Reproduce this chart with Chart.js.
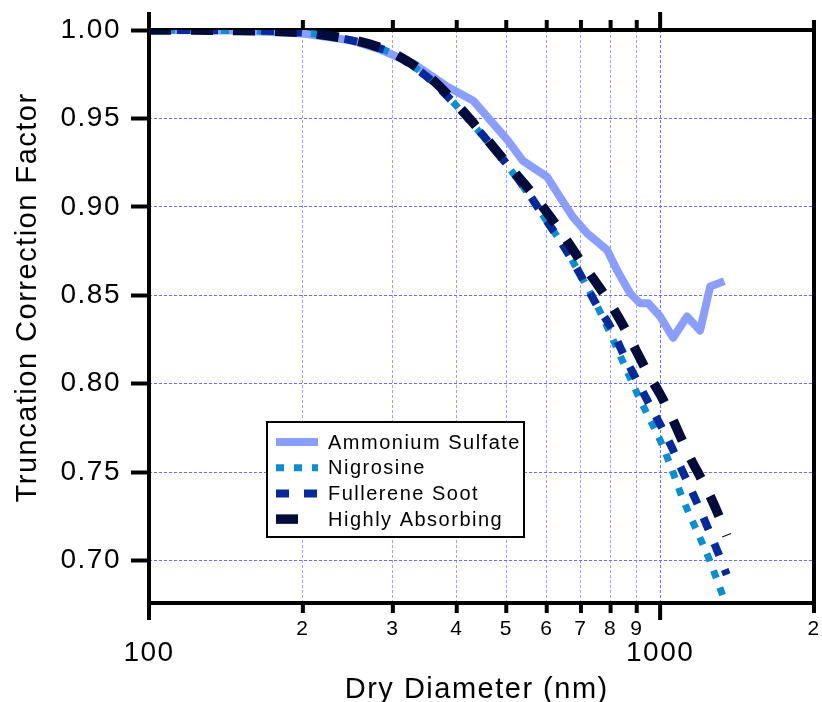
<!DOCTYPE html>
<html>
<head>
<meta charset="utf-8">
<title>Truncation Correction Factor vs Dry Diameter</title>
<script src="https://cdn.jsdelivr.net/npm/chart.js@4"></script>
<style>
  html, body { margin: 0; padding: 0; background: #ffffff; }
  #wrap { width: 822px; height: 702px; position: relative; }
</style>
</head>
<body>
<div id="wrap"><canvas id="chart"></canvas></div>
<script>
// Ammonium sulfate: dry diameter (nm) and truncation correction factor
const sulfateDiameter = [100, 150, 200, 250, 283, 329, 383, 431, 465, 502, 539, 601, 637, 676, 720, 788, 824, 874, 914, 948, 1000, 1060, 1129, 1197, 1253, 1335];
const sulfateFactor   = [1.000, 0.9997, 0.998, 0.994, 0.989, 0.981, 0.968, 0.960, 0.949, 0.938, 0.926, 0.917, 0.9055, 0.894, 0.885, 0.8755, 0.864, 0.851, 0.8455, 0.8455, 0.838, 0.826, 0.838, 0.830, 0.855, 0.858];

// Absorbing aerosols share one diameter grid (nm)
const absorberDiameter = [100, 150, 200, 236, 270, 300, 350, 400, 450, 500, 550, 600, 650, 700, 750, 800, 850, 900, 950, 1000, 1050, 1100, 1150, 1200, 1250, 1300, 1350];
const nigrosineFactor       = [1.000, 0.9997, 0.9985, 0.9955, 0.9915, 0.9865, 0.9735, 0.957, 0.940, 0.924, 0.908, 0.892, 0.877, 0.861, 0.845, 0.828, 0.811, 0.795, 0.781, 0.768, 0.753, 0.737, 0.724, 0.712, 0.700, 0.687, 0.674];
const fullereneFactor       = [1.000, 0.9997, 0.9985, 0.9955, 0.9915, 0.9865, 0.9735, 0.957, 0.9405, 0.9245, 0.9085, 0.892, 0.877, 0.861, 0.845, 0.832, 0.816, 0.802, 0.789, 0.777, 0.765, 0.752, 0.740, 0.728, 0.716, 0.704, 0.692];
const highlyAbsorbingFactor = [1.000, 0.9997, 0.9985, 0.9958, 0.992, 0.987, 0.9745, 0.958, 0.941, 0.925, 0.911, 0.897, 0.883, 0.869, 0.857, 0.845, 0.832, 0.818, 0.805, 0.794, 0.782, 0.769, 0.757, 0.747, 0.737, 0.726, 0.714];

// Axis ticks
const xTickValues = [100, 200, 300, 400, 500, 600, 700, 800, 900, 1000, 2000];
const yTickValues = [0.70, 0.75, 0.80, 0.85, 0.90, 0.95, 1.00];

const seriesNames = ['Ammonium Sulfate', 'Nigrosine', 'Fullerene Soot', 'Highly Absorbing'];

const FONT = "'Liberation Sans', Arial, Helvetica, sans-serif";
const GRID_MAJOR = '#6a6aff';
const GRID_MINOR = '#9c9cff';

const isDecade = v => Math.abs(Math.log10(v) - Math.round(Math.log10(v))) < 1e-9;
const toPoints = (xs, ys) => xs.map((x, i) => ({ x: x, y: ys[i] }));

const datasets = [
  {
    label: seriesNames[0],
    data: toPoints(sulfateDiameter, sulfateFactor),
    borderColor: '#8a9eff', borderWidth: 8,
    borderJoinStyle: 'round', borderCapStyle: 'butt',
    tension: 0, order: 4
  },
  {
    label: seriesNames[1],
    data: toPoints(absorberDiameter, nigrosineFactor),
    borderColor: '#0a8dd2', borderWidth: 7, borderDash: [8, 10],
    borderCapStyle: 'butt', cubicInterpolationMode: 'monotone', order: 3
  },
  {
    label: seriesNames[2],
    data: toPoints(absorberDiameter, fullereneFactor),
    borderColor: '#062a9c', borderWidth: 8, borderDash: [13, 15],
    borderCapStyle: 'butt', cubicInterpolationMode: 'monotone', order: 2
  },
  {
    label: seriesNames[3],
    data: toPoints(absorberDiameter, highlyAbsorbingFactor),
    borderColor: '#010c3a', borderWidth: 9.5, borderDash: [22, 20],
    borderCapStyle: 'butt', cubicInterpolationMode: 'monotone', order: 1
  }
];

// Slightly wider text tracking for every label on the canvas
const tracking = {
  id: 'tracking',
  beforeUpdate(chart) { chart.ctx.letterSpacing = '1.5px'; },
  beforeDraw(chart) { chart.ctx.letterSpacing = '1.5px'; }
};

// Heavy box frame with outward tick marks on the top and bottom log axes
const frame = {
  id: 'frame',
  beforeDatasetsDraw(chart) {
    const { ctx, chartArea: { left, right, top, bottom }, scales: { x } } = chart;
    ctx.save();
    ctx.strokeStyle = '#000';
    ctx.lineWidth = 4;
    ctx.lineJoin = 'miter';
    ctx.setLineDash([]);
    ctx.strokeRect(left, top, right - left, bottom - top);
    ctx.lineCap = 'butt';
    ctx.beginPath();
    xTickValues.forEach(v => {
      const px = x.getPixelForValue(v);
      const major = isDecade(v);
      ctx.moveTo(px, top);
      ctx.lineTo(px, top - (major ? 18 : 10));
      ctx.moveTo(px, bottom);
      ctx.lineTo(px, bottom + (major ? 17 : 10));
    });
    ctx.stroke();
    ctx.restore();
  }
};

// Boxed legend inside the plot area
const boxLegend = {
  id: 'boxLegend',
  afterDatasetsDraw(chart) {
    const { ctx } = chart;
    const box = { left: 267, top: 422, width: 257, height: 115 };
    const rowTop = 442, rowGap = 25.7, sampleX0 = 276, sampleX1 = 318, textX = 328;
    ctx.save();
    ctx.letterSpacing = '1.5px';
    ctx.fillStyle = '#ffffff';
    ctx.fillRect(box.left, box.top, box.width, box.height);
    ctx.strokeStyle = '#000';
    ctx.lineWidth = 2;
    ctx.setLineDash([]);
    ctx.strokeRect(box.left, box.top, box.width, box.height);
    seriesNames.forEach((name, i) => {
      const ds = chart.data.datasets[i];
      const y = rowTop + i * rowGap;
      ctx.save();
      ctx.strokeStyle = ds.borderColor;
      ctx.lineWidth = ds.borderWidth;
      ctx.lineCap = 'butt';
      ctx.setLineDash(ds.borderDash || []);
      ctx.beginPath();
      ctx.moveTo(sampleX0, y);
      ctx.lineTo(sampleX1, y);
      ctx.stroke();
      ctx.restore();
      ctx.fillStyle = '#000';
      ctx.font = '20px ' + FONT;
      ctx.textAlign = 'left';
      ctx.textBaseline = 'middle';
      ctx.fillText(name, textX, y + 1);
    });
    ctx.restore();
  }
};

new Chart(document.getElementById('chart'), {
  type: 'line',
  data: { datasets: datasets },
  plugins: [tracking, frame, boxLegend],
  options: {
    responsive: true,
    maintainAspectRatio: false,
    animation: false,
    layout: { padding: { top: 30, right: 8, bottom: 0, left: 0 } },
    elements: { point: { radius: 0 } },
    plugins: { legend: { display: false }, tooltip: { enabled: false } },
    scales: {
      x: {
        type: 'logarithmic',
        min: 100,
        max: 2000,
        afterBuildTicks: s => { s.ticks = xTickValues.map(v => ({ value: v })); },
        afterFit: s => { s.height = 99; s.paddingLeft = 0; s.paddingRight = 0; },
        grid: {
          drawTicks: false,
          lineWidth: 1,
          color: c => (c.tick && isDecade(c.tick.value)) ? GRID_MAJOR : GRID_MINOR
        },
        border: { display: false, dash: [3, 2] },
        ticks: {
          autoSkip: false,
          maxRotation: 0,
          minRotation: 0,
          padding: 14,
          color: '#000',
          font: c => (c.tick && isDecade(c.tick.value))
            ? { family: FONT, size: 28, lineHeight: '72px' }
            : { family: FONT, size: 21, lineHeight: 1.2 },
          callback: v => isDecade(v) ? String(v) : String(Math.round(v / Math.pow(10, Math.floor(Math.log10(v) + 1e-9))))
        },
        title: {
          display: true,
          text: 'Dry Diameter (nm) ',
          color: '#000',
          font: { family: FONT, size: 29, lineHeight: '24px' },
          padding: 0
        }
      },
      y: {
        type: 'linear',
        min: 0.676,
        max: 1.0,
        afterBuildTicks: s => { s.ticks = yTickValues.map(v => ({ value: v })); },
        afterFit: s => { s.width = 149; s.paddingTop = 0; s.paddingBottom = 0; },
        grid: {
          drawTicks: true,
          tickLength: 18,
          tickWidth: 4,
          tickColor: '#000',
          lineWidth: 1,
          color: GRID_MAJOR
        },
        border: { display: false, dash: [3, 2] },
        ticks: {
          padding: 10,
          color: '#000',
          font: { family: FONT, size: 28 },
          callback: v => Number(v).toFixed(2)
        },
        title: {
          display: true,
          text: '    Truncation Correction Factor',
          color: '#000',
          font: { family: FONT, size: 29, lineHeight: 1 },
          padding: { top: 13.5, bottom: 0 }
        }
      }
    }
  }
});
</script>
</body>
</html>
